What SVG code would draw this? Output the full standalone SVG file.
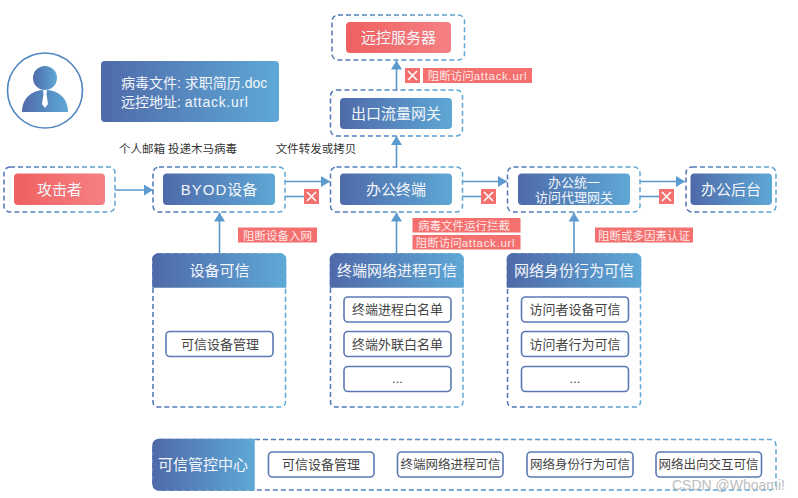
<svg xmlns="http://www.w3.org/2000/svg" width="798" height="498" viewBox="0 0 798 498">
<style>
text{font-family:"Liberation Sans","Noto Sans CJK SC",sans-serif;text-anchor:middle}
.o{fill:#fff;stroke:url(#dash);stroke-width:1.5;stroke-dasharray:5 3}
.b{fill:url(#blue)}
.h{fill:url(#blue);stroke:url(#blue);stroke-width:1.5}
.r{fill:url(#red)}
.t{fill:#f3f6fb;font-size:15px}
.i{fill:#fff;stroke:#5b78b5;stroke-width:1.6}
.k{fill:#444;font-size:13px}
.c{fill:#333;font-size:11.5px}
.l{fill:#f4706f}
.lt{fill:#fde8e8;font-size:11.500px}
.w{letter-spacing:.7px}
.x{stroke:#fff;stroke-width:1.6;fill:none}
.a{stroke:#5b97cc;stroke-width:1.6;fill:none}
</style>
<defs>
<linearGradient id="blue"><stop offset="0" stop-color="#4f6aa9"/><stop offset="1" stop-color="#5ea8d6"/></linearGradient>
<linearGradient id="red"><stop offset="0" stop-color="#f06060"/><stop offset="1" stop-color="#f58184"/></linearGradient>
<linearGradient id="dash"><stop offset="0" stop-color="#4f75b5"/><stop offset="1" stop-color="#5ea8d6"/></linearGradient>
<marker id="ah" markerUnits="userSpaceOnUse" markerWidth="10" markerHeight="11" refX="9" refY="5.5" orient="auto"><path d="M0 0L9 5.500L0 11Z" fill="#5b9bd0"/></marker>
</defs>
<rect width="798" height="498" fill="#fff"/>
<g id="connectors">
<path class="a" d="M115 190H153" marker-end="url(#ah)"/>
<path class="a" d="M285 181.500H330" marker-end="url(#ah)"/>
<path class="a" d="M285 196.500H304"/>
<path class="a" d="M462.500 181.500H507" marker-end="url(#ah)"/>
<path class="a" d="M462.500 196.500H482"/>
<path class="a" d="M640 181.500H685" marker-end="url(#ah)"/>
<path class="a" d="M640 196.500H659"/>
<path class="a" d="M396.500 167V136" marker-end="url(#ah)"/>
<path class="a" d="M396.500 90V60.500" marker-end="url(#ah)"/>
<path class="a" d="M219.500 254V212.500" marker-end="url(#ah)"/>
<path class="a" d="M396.500 254V212.500" marker-end="url(#ah)"/>
<path class="a" d="M574 254V212.500" marker-end="url(#ah)"/>
</g>
<g id="avatar">
<circle cx="45" cy="90.500" r="37.500" fill="#fff" stroke="#4f86c0" stroke-width="1.600"/>
<circle cx="45" cy="78" r="12" fill="url(#blue)"/>
<path d="M22 112C22 97 33 90 45 90C57 90 68 97 68 112Z" fill="url(#blue)"/>
<path d="M43 90H47L46.500 94L48 104L45 108L42 104L43.500 94Z" fill="#fff"/>
</g>
<g id="virus-info">
<rect class="b" x="101" y="61" width="178" height="61" rx="4"/>
<text class="t" x="121" y="88" style="text-anchor:start;font-size:14px">病毒文件: 求职简历.doc</text>
<text class="t" x="121" y="107" style="text-anchor:start;font-size:14px">远控地址: <tspan class="w">attack.url</tspan></text>
</g>
<g id="captions">
<text class="c" x="178" y="153">个人邮箱 投递木马病毒</text>
<text class="c" x="316" y="153">文件转发或拷贝</text>
</g>
<g id="attacker">
<rect class="o" x="4" y="167" width="111" height="45" rx="6"/>
<rect class="r" x="14" y="173.500" width="91" height="31.500" rx="4"/>
<text class="t" x="59.500" y="195">攻击者</text>
</g>
<g id="byod">
<rect class="o" x="153" y="167" width="132" height="45" rx="6"/>
<rect class="b" x="163" y="173.500" width="112" height="31.500" rx="4"/>
<text class="t" x="219" y="195"><tspan style="letter-spacing:1px">BYOD</tspan>设备</text>
</g>
<g id="terminal">
<rect class="o" x="330.500" y="167" width="132" height="45" rx="6"/>
<rect class="b" x="340" y="173.500" width="112" height="31.500" rx="4"/>
<text class="t" x="396" y="195">办公终端</text>
</g>
<g id="gateway">
<rect class="o" x="507.500" y="167" width="132.500" height="45" rx="6"/>
<rect class="b" x="518" y="173.500" width="112" height="31.500" rx="4"/>
<text class="t" x="574" y="187" style="font-size:13px">办公统一</text>
<text class="t" x="574" y="202" style="font-size:13px">访问代理网关</text>
</g>
<g id="backend">
<rect class="o" x="686" y="167" width="90" height="45" rx="6"/>
<rect class="b" x="690.500" y="173.500" width="81.500" height="31.500" rx="4"/>
<text class="t" x="731" y="195">办公后台</text>
</g>
<g id="egress">
<rect class="o" x="330.500" y="90" width="132" height="46" rx="6"/>
<rect class="b" x="340" y="98" width="112" height="31" rx="4"/>
<text class="t" x="396" y="119">出口流量网关</text>
</g>
<g id="c2">
<rect class="o" x="332" y="15" width="132.500" height="45" rx="6"/>
<rect class="r" x="346" y="22" width="105" height="31" rx="4"/>
<text class="t" x="398.500" y="43">远控服务器</text>
</g>
<g id="blocks">
<rect class="l" x="304" y="189" width="15" height="15"/><path class="x" d="M307 192L316 201M316 192L307 201"/>
<rect class="l" x="481" y="189" width="15" height="15"/><path class="x" d="M484 192L493 201M493 192L484 201"/>
<rect class="l" x="659" y="189" width="15" height="15"/><path class="x" d="M662 192L671 201M671 192L662 201"/>
<rect class="l" x="405" y="68" width="15" height="15"/><path class="x" d="M408 71L417 80M417 71L408 80"/>
<rect class="l" x="423" y="68" width="109" height="15"/><text class="lt" x="477.500" y="80">阻断访问<tspan class="w">attack.url</tspan></text>
<rect class="l" x="238" y="227.500" width="79" height="15"/><text class="lt" x="277.500" y="239.500">阻断设备入网</text>
<rect class="l" x="412.500" y="218" width="108" height="14.500"/><text class="lt" x="464" y="230">病毒文件运行拦截</text>
<rect class="l" x="412.500" y="235" width="108" height="14.500"/><text class="lt" x="465.500" y="247">阻断访问<tspan class="w">attack.url</tspan></text>
<rect class="l" x="595" y="227.500" width="98" height="15"/><text class="lt" x="644" y="239.500">阻断或多因素认证</text>
</g>
<g id="panel-device">
<rect class="o" x="153" y="254" width="132.500" height="153" rx="5"/>
<path class="h" d="M153 287V259a5 5 0 0 1 5-5H280.500a5 5 0 0 1 5 5V287Z"/>
<text class="t" x="219.500" y="276">设备可信</text>
<rect class="i" x="166" y="331.500" width="107" height="25" rx="4"/>
<text class="k" x="220" y="349">可信设备管理</text>
</g>
<g id="panel-process">
<rect class="o" x="330.500" y="254" width="132.500" height="153" rx="5"/>
<path class="h" d="M330.500 287V259a5 5 0 0 1 5-5H458a5 5 0 0 1 5 5V287Z"/>
<text class="t" x="397" y="276">终端网络进程可信</text>
<rect class="i" x="344" y="297" width="107" height="25" rx="4"/>
<text class="k" x="397.500" y="314">终端进程白名单</text>
<rect class="i" x="344" y="331.500" width="107" height="25" rx="4"/>
<text class="k" x="397.500" y="349">终端外联白名单</text>
<rect class="i" x="344" y="366.500" width="107" height="25" rx="4"/>
<text class="k" x="397.500" y="383">...</text>
</g>
<g id="panel-identity">
<rect class="o" x="507.500" y="254" width="133" height="153" rx="5"/>
<path class="h" d="M507.500 287V259a5 5 0 0 1 5-5H635.500a5 5 0 0 1 5 5V287Z"/>
<text class="t" x="574" y="276">网络身份行为可信</text>
<rect class="i" x="521.500" y="297" width="107" height="25" rx="4"/>
<text class="k" x="575" y="314">访问者设备可信</text>
<rect class="i" x="521.500" y="331.500" width="107" height="25" rx="4"/>
<text class="k" x="575" y="349">访问者行为可信</text>
<rect class="i" x="521.500" y="366.500" width="107" height="25" rx="4"/>
<text class="k" x="575" y="383">...</text>
</g>
<g id="control-center">
<rect class="o" x="153" y="439.500" width="623" height="50.500" rx="6"/>
<path class="h" d="M254 439.500V490H159a6 6 0 0 1-6-6V445.500a6 6 0 0 1 6-6Z"/>
<text class="t" x="203" y="470">可信管控中心</text>
<rect class="i" x="268.500" y="452" width="105.500" height="25" rx="4"/>
<text class="k" x="321" y="469">可信设备管理</text>
<rect class="i" x="397.500" y="452" width="105.500" height="25" rx="4"/>
<text class="k" x="450.500" y="469" style="font-size:12.500px">终端网络进程可信</text>
<rect class="i" x="527" y="452" width="106" height="25" rx="4"/>
<text class="k" x="580" y="469" style="font-size:12.500px">网络身份行为可信</text>
<rect class="i" x="656" y="452" width="105.500" height="25" rx="4"/>
<text class="k" x="708.500" y="469" style="font-size:12.500px">网络出向交互可信</text>
</g>
<text x="672" y="490" style="text-anchor:start;font-size:14px;fill:#bdbdbd">CSDN @Whoami!</text>
</svg>
